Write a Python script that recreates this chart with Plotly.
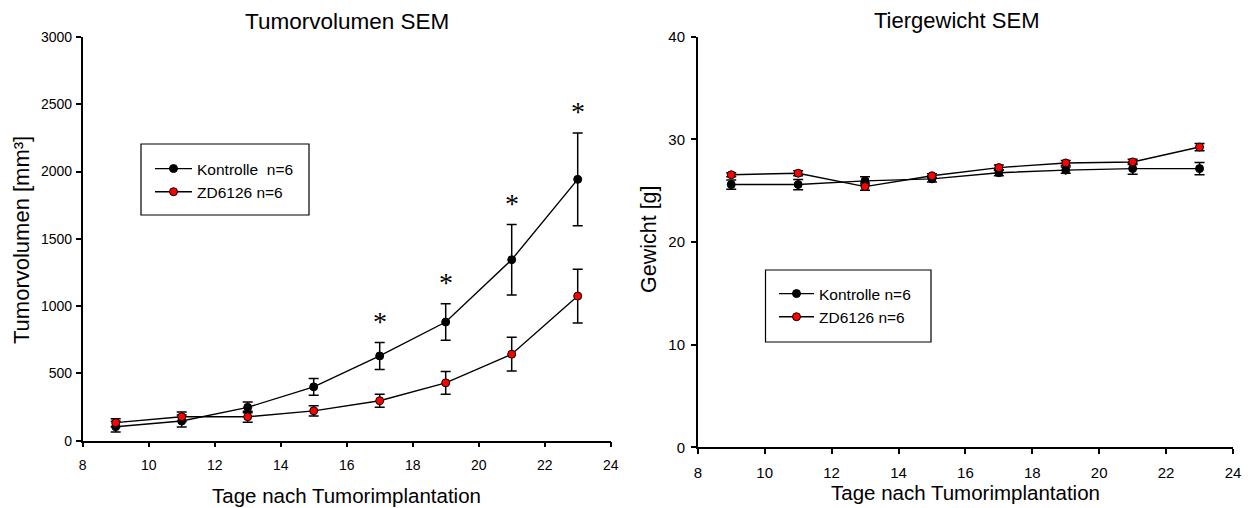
import plotly.graph_objects as go

# ---------------- data ----------------
days = [9, 11, 13, 15, 17, 19, 21, 23]

vol_kontrolle = [104, 146, 248, 400, 630, 882, 1345, 1942]
vol_kontrolle_sem = [40, 45, 40, 62, 100, 135, 262, 345]
vol_zd = [134, 178, 178, 222, 297, 430, 643, 1075]
vol_zd_sem = [30, 35, 40, 38, 48, 85, 125, 200]
significant = [False, False, False, False, True, True, True, True]

gew_kontrolle = [25.6, 25.6, 25.95, 26.15, 26.75, 27.0, 27.15, 27.15]
gew_kontrolle_sem = [0.45, 0.5, 0.4, 0.3, 0.3, 0.3, 0.55, 0.6]
gew_zd = [26.55, 26.7, 25.4, 26.45, 27.25, 27.7, 27.8, 29.25]
gew_zd_sem = [0.2, 0.25, 0.35, 0.2, 0.25, 0.25, 0.25, 0.35]

label_k_left = "Kontrolle  n=6"
label_z_left = "ZD6126 n=6"
label_k_right = "Kontrolle n=6"
label_z_right = "ZD6126 n=6"

x_ticks = [8, 10, 12, 14, 16, 18, 20, 22, 24]
vol_ticks = [0, 500, 1000, 1500, 2000, 2500, 3000]
gew_ticks = [0, 10, 20, 30, 40]

# ---------------- layout helpers ----------------
# the page body has an 8px margin, so the figure is made 8px smaller
OFF = 8
W, H = 1251 - OFF, 508 - OFF
FONT = "Liberation Sans, Arial, sans-serif"


def px(x):
    return (x - OFF) / W


def py(y):
    return (H - (y - OFF)) / H


def series(x, y, err, name, color, xa, ya, legend):
    return go.Scatter(
        x=x, y=y, name=name, mode="lines+markers",
        xaxis=xa, yaxis=ya, legend=legend,
        line=dict(color="black", width=1.4),
        marker=dict(symbol="circle", size=8, color=color,
                    line=dict(color="black", width=1)),
        error_y=dict(type="data", array=err, visible=True,
                     color="black", thickness=1.5, width=5),
    )


fig = go.Figure()
fig.add_trace(series(days, vol_kontrolle, vol_kontrolle_sem, label_k_left,
                     "black", "x", "y", "legend"))
fig.add_trace(series(days, vol_zd, vol_zd_sem, label_z_left,
                     "red", "x", "y", "legend"))
fig.add_trace(series(days, gew_kontrolle, gew_kontrolle_sem, label_k_right,
                     "black", "x2", "y2", "legend2"))
fig.add_trace(series(days, gew_zd, gew_zd_sem, label_z_right,
                     "red", "x2", "y2", "legend2"))

axis_common = dict(
    showline=True, linecolor="black", linewidth=1.5,
    ticks="outside", ticklen=5, tickwidth=1.5, tickcolor="black",
    showgrid=False, zeroline=False, mirror=False, automargin=False,
)
tick14 = dict(family=FONT, size=14, color="black")
tick15 = dict(family=FONT, size=15, color="black")
legfont = dict(family=FONT, size=15.5, color="black")

fig.update_layout(
    width=W, height=H,
    margin=dict(l=0, r=0, t=0, b=0, autoexpand=False),
    paper_bgcolor="white", plot_bgcolor="white",
    font=dict(family=FONT, color="black"),
    xaxis=dict(domain=[px(82.7), px(610.7)], range=[8, 24],
               tickvals=x_ticks, anchor="y", ticklabelstandoff=6,
               tickfont=tick14, **axis_common),
    yaxis=dict(domain=[py(440.7), py(37)], range=[0, 3000],
               tickvals=vol_ticks, anchor="x", ticklabelstandoff=1,
               tickfont=tick14, **axis_common),
    xaxis2=dict(domain=[px(697.8), px(1233)], range=[8, 24],
                tickvals=x_ticks, anchor="y2", ticklabelstandoff=6,
                tickfont=tick15, **axis_common),
    yaxis2=dict(domain=[py(447.3), py(36.7)], range=[0, 40],
                tickvals=gew_ticks, anchor="x2", ticklabelstandoff=3,
                tickfont=tick15, **axis_common),
    legend=dict(x=px(150), y=py(152), xanchor="left", yanchor="top",
                bgcolor="rgba(0,0,0,0)", borderwidth=0, itemwidth=37,
                font=legfont),
    legend2=dict(x=px(774), y=py(277), xanchor="left", yanchor="top",
                 bgcolor="rgba(0,0,0,0)", borderwidth=0, itemwidth=35,
                 font=legfont),
    showlegend=True,
)

# legend frames
fig.add_shape(type="rect", xref="paper", yref="paper",
              x0=px(141), x1=px(309), y0=py(215), y1=py(144),
              line=dict(color="black", width=1.2))
fig.add_shape(type="rect", xref="paper", yref="paper",
              x0=px(765.5), x1=px(931), y0=py(342), y1=py(270),
              line=dict(color="black", width=1.2))

ann = []
# titles
ann.append(dict(text="Tumorvolumen SEM", x=px(346.5), y=py(21), xref="paper",
                yref="paper", showarrow=False, xanchor="center", yanchor="middle",
                font=dict(family=FONT, size=22.5, color="black")))
ann.append(dict(text="Tiergewicht SEM", x=px(956), y=py(20), xref="paper",
                yref="paper", showarrow=False, xanchor="center", yanchor="middle",
                font=dict(family=FONT, size=22, color="black")))
# axis titles
ann.append(dict(text="Tage nach Tumorimplantation", x=px(346.7), y=py(495),
                xref="paper", yref="paper", showarrow=False, xanchor="center",
                yanchor="middle", font=dict(family=FONT, size=20.5, color="black")))
ann.append(dict(text="Tage nach Tumorimplantation", x=px(965.5), y=py(492),
                xref="paper", yref="paper", showarrow=False, xanchor="center",
                yanchor="middle", font=dict(family=FONT, size=20.5, color="black")))
ann.append(dict(text="Tumorvolumen [mm³]", x=px(22), y=py(240), xref="paper",
                yref="paper", showarrow=False, textangle=-90, xanchor="center",
                yanchor="middle", font=dict(family=FONT, size=22, color="black")))
ann.append(dict(text="Gewicht [g]", x=px(649), y=py(239), xref="paper",
                yref="paper", showarrow=False, textangle=-90, xanchor="center",
                yanchor="middle", font=dict(family=FONT, size=21.5, color="black")))
# significance stars above the control error bars
for d, m, s, sig in zip(days, vol_kontrolle, vol_kontrolle_sem, significant):
    if sig:
        ann.append(dict(text="*", x=d, y=m + s, xref="x", yref="y",
                        showarrow=False, xanchor="center", yanchor="middle",
                        yshift=21,
                        font=dict(family="Liberation Serif, Times New Roman, serif",
                                  size=28, color="black")))
fig.update_layout(annotations=ann)

fig.write_html("out.html")
